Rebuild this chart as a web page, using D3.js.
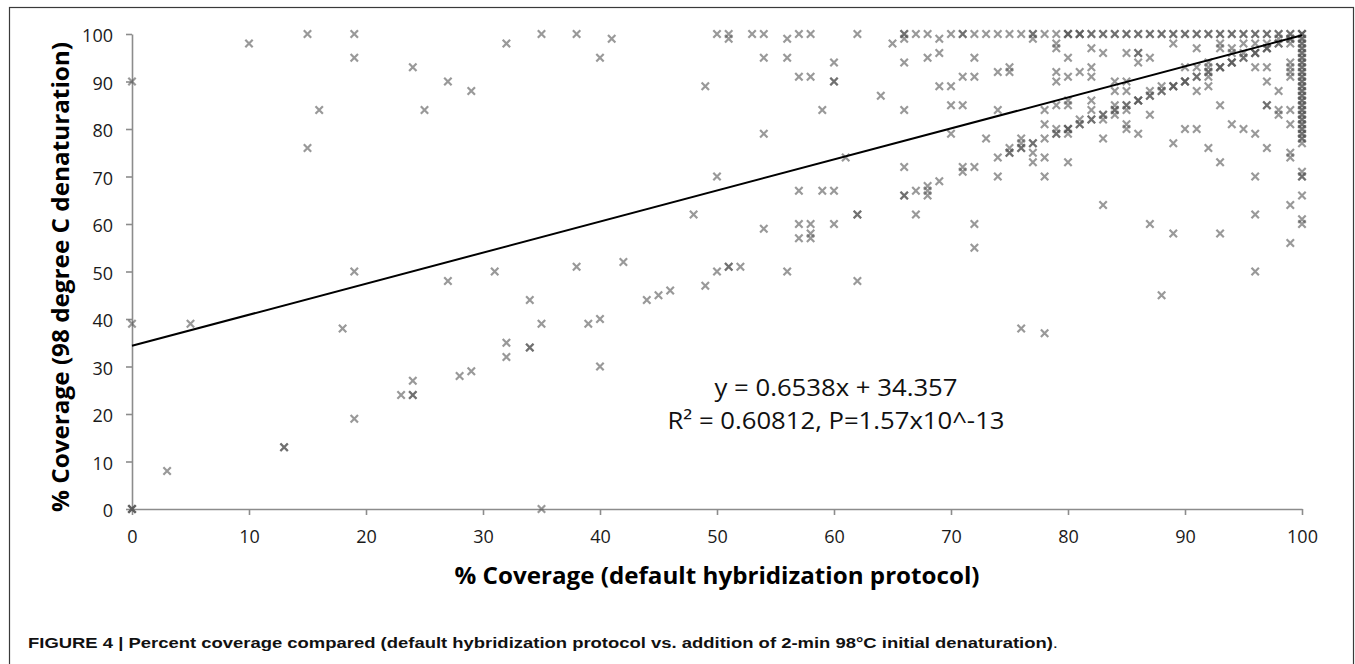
<!DOCTYPE html>
<html>
<head>
<meta charset="utf-8" />
<script src="https://cdn.jsdelivr.net/npm/d3@7"></script>
<style>
  body {
    margin: 0;
    background: #ffffff;
  }
</style>
</head>
<body>
<div id="chart"></div>
<script>
/* Data: [default protocol %, 98C denaturation %] */
const points = [
  [0, 0], [0, 0], [0, 0], [0, 39], [0, 90],
  [3, 8], [5, 39], [10, 98], [13, 13], [13, 13],
  [15, 100], [15, 76], [16, 84], [18, 38],
  [19, 100], [19, 95], [19, 50], [19, 19],
  [23, 24], [24, 24], [24, 24], [24, 27], [24, 93], [25, 84],
  [27, 90], [27, 48], [28, 28], [29, 29], [29, 88],
  [31, 50], [32, 98], [32, 35], [32, 32],
  [34, 44], [34, 34], [34, 34], [35, 100], [35, 39], [35, 0],
  [38, 100], [38, 51], [39, 39], [40, 40], [40, 95], [40, 30], [41, 99], [42, 52],
  [44, 44], [45, 45], [46, 46], [48, 62], [49, 89], [49, 47],
  [50, 100], [50, 70], [50, 50], [51, 100], [51, 99], [51, 51], [51, 51], [52, 51],
  [53, 100], [54, 100], [54, 95], [54, 79], [54, 59],
  [56, 99], [56, 95], [56, 50], [57, 100], [57, 91], [57, 67], [57, 60], [57, 57],
  [58, 100], [58, 91], [58, 60], [58, 57], [58, 58],
  [59, 84], [59, 67], [60, 94], [60, 90], [60, 90], [60, 67], [60, 60],
  [61, 74], [62, 100], [62, 62], [62, 62], [62, 48], [64, 87], [65, 98],
  [66, 100], [66, 100], [66, 99], [66, 94], [66, 84], [66, 72], [66, 66], [66, 66],
  [67, 100], [67, 67], [67, 62],
  [68, 100], [68, 95], [68, 68], [68, 67], [68, 66],
  [69, 99], [69, 96], [69, 89], [69, 69],
  [70, 100], [70, 89], [70, 85], [70, 79],
  [71, 100], [71, 100], [71, 91], [71, 85], [71, 72], [71, 71],
  [72, 100], [72, 95], [72, 91], [72, 72], [72, 60], [72, 55],
  [73, 100], [73, 78],
  [74, 100], [74, 92], [74, 84], [74, 74], [74, 70],
  [75, 100], [75, 93], [75, 92], [75, 76], [75, 75], [75, 75],
  [76, 100], [76, 78], [76, 77], [76, 76], [76, 76], [76, 38],
  [77, 100], [77, 100], [77, 99], [77, 77], [77, 77], [77, 75], [77, 73],
  [78, 100], [78, 84], [78, 81], [78, 78], [78, 74], [78, 70], [78, 37],
  [79, 100], [79, 98], [79, 97], [79, 92], [79, 90], [79, 85], [79, 80], [79, 79],
  [80, 100], [80, 100], [80, 95], [80, 91], [80, 86], [80, 85], [80, 80], [80, 80], [80, 79], [80, 73],
  [81, 100], [81, 100], [81, 92], [81, 82], [81, 81],
  [82, 100], [82, 97], [82, 93], [82, 91], [82, 86], [82, 84], [82, 82],
  [83, 100], [83, 100], [83, 96], [83, 83], [83, 82], [83, 78], [83, 64],
  [84, 100], [84, 90], [84, 88], [84, 85], [84, 84], [84, 83],
  [85, 100], [85, 96], [85, 90], [85, 88], [85, 85], [85, 84], [85, 81], [85, 80],
  [86, 100], [86, 100], [86, 96], [86, 96], [86, 94], [86, 86], [86, 86], [86, 79],
  [87, 100], [87, 95], [87, 88], [87, 87], [87, 83], [87, 60],
  [88, 100], [88, 100], [88, 89], [88, 88], [88, 45],
  [89, 100], [89, 98], [89, 89], [89, 89], [89, 77], [89, 58],
  [90, 100], [90, 100], [90, 93], [90, 90], [90, 90], [90, 80],
  [91, 100], [91, 97], [91, 93], [91, 91], [91, 88], [91, 80],
  [92, 100], [92, 94], [92, 93], [92, 92], [92, 91], [92, 89], [92, 76],
  [93, 100], [93, 98], [93, 97], [93, 93], [93, 93], [93, 85], [93, 73], [93, 58],
  [94, 100], [94, 97], [94, 96], [94, 94], [94, 94], [94, 81],
  [95, 100], [95, 98], [95, 96], [95, 95], [95, 80],
  [96, 100], [96, 98], [96, 96], [96, 96], [96, 93], [96, 79], [96, 70], [96, 62], [96, 50],
  [97, 100], [97, 98], [97, 97], [97, 97], [97, 93], [97, 90], [97, 85], [97, 85], [97, 76],
  [98, 100], [98, 99], [98, 98], [98, 88], [98, 84], [98, 83],
  [99, 100], [99, 99], [99, 98], [99, 94], [99, 93], [99, 92], [99, 91], [99, 84],
  [99, 81], [99, 75], [99, 74], [99, 64], [99, 56],
  [100, 100], [100, 100], [100, 100], [100, 99], [100, 98], [100, 97], [100, 96],
  [100, 95], [100, 94], [100, 93], [100, 92], [100, 91], [100, 90], [100, 89],
  [100, 88], [100, 87], [100, 86], [100, 85], [100, 84], [100, 83], [100, 82],
  [100, 81], [100, 80], [100, 79], [100, 78], [100, 77], [100, 71], [100, 70],
  [100, 70], [100, 66], [100, 61], [100, 60],
];

// repeated entries in the dense corner (identical coverage in both protocols)
const densePoints = [
  [79, 79], [80, 80], [81, 81], [82, 82], [83, 83], [84, 84], [85, 85],
  [86, 86], [87, 87], [88, 88], [89, 89], [90, 90], [91, 91], [92, 92],
  [93, 93], [94, 94], [95, 95], [96, 96], [97, 97], [98, 98], [99, 99],
  [80, 100], [81, 100], [82, 100], [84, 100], [85, 100], [87, 100],
  [89, 100], [91, 100], [92, 100], [93, 100], [94, 100], [95, 100],
  [96, 100], [97, 100], [98, 100], [99, 100],
  [100, 99], [100, 98], [100, 97], [100, 96], [100, 95], [100, 94],
  [100, 93], [100, 92], [100, 91], [100, 90], [100, 89], [100, 88],
  [100, 87], [100, 86], [100, 85], [100, 84], [100, 83], [100, 82],
  [100, 81], [100, 80], [100, 79], [100, 78],
];

const xTicks = [0, 10, 20, 30, 40, 50, 60, 70, 80, 90, 100];
const yTicks = [0, 10, 20, 30, 40, 50, 60, 70, 80, 90, 100];

const trendSlope = 0.6538;
const trendIntercept = 34.357;

const xTitle = "% Coverage (default hybridization protocol)";
const yTitle = "% Coverage (98 degree C denaturation)";
const equationLines = [
  "y = 0.6538x + 34.357",
  "R\u00b2 = 0.60812, P=1.57x10^-13",
];
const captionBold =
  "FIGURE 4 | Percent coverage compared (default hybridization protocol vs. addition of 2-min 98\u00b0C initial denaturation)";

const width = 1355;
const height = 664;
const axisColor = "#8c8c8c";
const markerColor = "#555555";
const tickFont = "'Open Sans', sans-serif";

/* Add SVG */
const svg = d3
  .select("#chart")
  .append("svg")
  .attr("width", width)
  .attr("height", height)
  .style("display", "block");

// outer frame of the figure
svg
  .append("rect")
  .attr("x", 9.5)
  .attr("y", 7.5)
  .attr("width", 1344)
  .attr("height", 700)
  .attr("fill", "none")
  .attr("stroke", "#3a3a3a")
  .attr("stroke-width", 1.2);

/* Scale */
const xScale = d3.scaleLinear().domain([0, 100]).range([132, 1302]);
const yScale = d3.scaleLinear().domain([0, 100]).range([509, 34]);

/* Axes */
const xAxis = d3
  .axisBottom(xScale)
  .tickValues(xTicks)
  .tickSize(6)
  .tickSizeOuter(0)
  .tickPadding(15);

const yAxis = d3
  .axisLeft(yScale)
  .tickValues(yTicks)
  .tickSize(6)
  .tickSizeOuter(0)
  .tickPadding(13);

const gx = svg
  .append("g")
  .attr("class", "x axis")
  .attr("transform", `translate(0, ${yScale(0)})`)
  .call(xAxis);

const gy = svg
  .append("g")
  .attr("class", "y axis")
  .attr("transform", `translate(${xScale(0)}, 0)`)
  .call(yAxis);

[gx, gy].forEach((g) => {
  g.select(".domain").attr("stroke", axisColor).attr("stroke-width", 1.6);
  g.selectAll(".tick line").attr("stroke", axisColor).attr("stroke-width", 1.6);
  g.selectAll(".tick text")
    .attr("fill", "#1a1a1a")
    .style("font-family", tickFont)
    .style("font-size", "18px");
});
gy.selectAll(".tick text").attr("dy", "0.42em");

/* Markers */
const cross = "M-3.7,-3.7L3.7,3.7M-3.7,3.7L3.7,-3.7";

svg
  .append("g")
  .attr("class", "points")
  .selectAll("path")
  .data(points.concat(densePoints))
  .enter()
  .append("path")
  .attr("d", cross)
  .attr("transform", (d) => `translate(${xScale(d[0])}, ${yScale(d[1])})`)
  .attr("fill", "none")
  .attr("stroke", markerColor)
  .attr("stroke-width", 2.2)
  .attr("stroke-opacity", 0.6);

/* Trend line */
const line = d3
  .line()
  .x((d) => xScale(d))
  .y((d) => yScale(trendSlope * d + trendIntercept));

svg
  .append("path")
  .attr("d", line([0, 100]))
  .attr("fill", "none")
  .attr("stroke", "#000")
  .attr("stroke-width", 2);

/* Equation */
const eqWidths = [243, 337];
svg
  .selectAll(".equation")
  .data(equationLines)
  .enter()
  .append("text")
  .attr("class", "equation")
  .attr("x", 836)
  .attr("y", (d, i) => 396 + i * 33)
  .attr("text-anchor", "middle")
  .attr("textLength", (d, i) => eqWidths[i])
  .attr("lengthAdjust", "spacingAndGlyphs")
  .style("font-family", tickFont)
  .style("font-size", "23px")
  .style("fill", "#111")
  .text((d) => d);

/* Axis titles */
svg
  .append("text")
  .attr("x", 717)
  .attr("y", 584)
  .attr("text-anchor", "middle")
  .attr("textLength", 525)
  .attr("lengthAdjust", "spacingAndGlyphs")
  .style("font-family", tickFont)
  .style("font-weight", "bold")
  .style("font-size", "24px")
  .style("fill", "#000")
  .text(xTitle);

svg
  .append("text")
  .attr("transform", "translate(69, 277) rotate(-90)")
  .attr("text-anchor", "middle")
  .attr("textLength", 470)
  .attr("lengthAdjust", "spacingAndGlyphs")
  .style("font-family", tickFont)
  .style("font-weight", "bold")
  .style("font-size", "23px")
  .style("fill", "#000")
  .text(yTitle);

/* Caption */
const caption = svg
  .append("text")
  .attr("x", 28)
  .attr("y", 648)
  .attr("textLength", 1030)
  .attr("lengthAdjust", "spacingAndGlyphs")
  .style("font-family", "'Liberation Sans', Arial, sans-serif")
  .style("font-size", "14.5px")
  .style("fill", "#111");

caption.append("tspan").style("font-weight", "bold").text(captionBold);
caption.append("tspan").text(".");
</script>
</body>
</html>
